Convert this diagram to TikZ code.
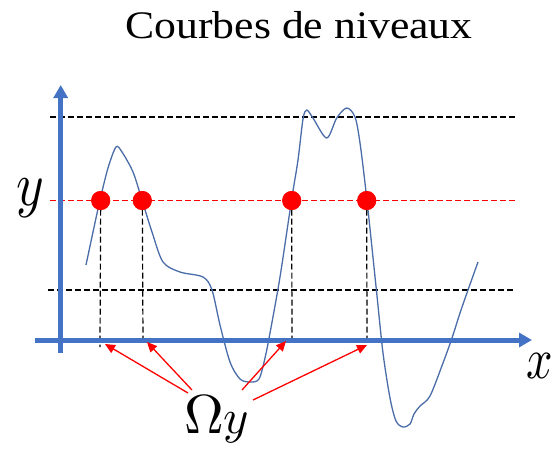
\documentclass[tikz,border=0pt]{standalone}
\usepackage{fontspec}
\setmainfont{Liberation Serif}
\usepackage{unicode-math}
\setmathfont{Latin Modern Math}
\usetikzlibrary{arrows.meta}
\definecolor{axisblue}{HTML}{4472C4}
\definecolor{curveblue}{HTML}{4A6CA8}
\definecolor{dotred}{HTML}{FF0000}
\tikzset{
  axisline/.style={line width=5pt, axisblue, -{Triangle[length=13pt,width=14pt]}},
  blackdash/.style={line width=1.2pt, black, dash pattern=on 6pt off 3pt},
  reddash/.style={line width=1.2pt, dotred, dash pattern=on 6pt off 3pt},
  curveline/.style={line width=1.3pt, curveblue},
  dotnode/.style={circle, fill=dotred, minimum size=19pt, inner sep=0pt},
  pointer/.style={line width=1.3pt, dotred, -{Triangle[length=10pt,width=9pt]}},
  lbl/.style={inner sep=0pt, anchor=base west}
}
\begin{document}
\begin{tikzpicture}[x=1pt,y=-1pt]
\useasboundingbox (0,0) rectangle (554,451);
% title
\node[inner sep=0pt, anchor=base] (title) at (299,38)
  {\scalebox{1.12}[1]{\fontsize{39}{44}\selectfont Courbes de niveaux}};
% level lines
\coordinate (tl) at (50,117);   \coordinate (tr) at (517,117);
\coordinate (ml) at (50,200.5); \coordinate (mr) at (517,200.5);
\coordinate (bl) at (48,290);   \coordinate (br) at (515,290);
\draw[blackdash] (tl) -- (tr);
\draw[reddash] (ml) -- (mr);
\draw[blackdash] (bl) -- (br);
% curve
\draw[curveline] plot[smooth, tension=0.5] coordinates {
 (86,265) (93,232) (100,200) (108,168) (116,147) (122,152) (133,172) (142,200)
 (152,232) (163,262) (180,272) (203,277) (212,290) (220,325) (230,362)
 (240,379) (250,382) (259,379) (265,358) (270,333) (280,277) (291.7,199)
 (298,160) (303,119) (306.7,110) (313,118) (326.7,138) (336.7,118) (346.7,108)
 (355,117) (360,143) (366.7,198) (376.7,293) (383,353) (390,398) (396,421)
 (403,427) (410,424) (414,414) (420,406) (430,396) (443,363) (452,338)
 (460,313) (468,290) (478,262)};
% axes
\coordinate (xs) at (35,340);   \coordinate (xe) at (532,340);
\coordinate (ys) at (60.7,353); \coordinate (ye) at (60.7,85);
% vertical projections
\coordinate (p1) at (100,347); \coordinate (p2) at (143,341);
\coordinate (p3) at (292,341); \coordinate (p4) at (367,341);
\node[dotnode] (d1) at (100.7,200.5) {};
\node[dotnode] (d2) at (142.3,200.5) {};
\node[dotnode] (d3) at (291.7,200.5) {};
\node[dotnode] (d4) at (366.7,200.5) {};
\draw[blackdash] (d1.center) -- (p1);
\draw[blackdash] (d2.center) -- (p2);
\draw[blackdash] (d3.center) -- (p3);
\draw[blackdash] (d4.center) -- (p4);
\draw[axisline] (xs) -- (xe);
\draw[axisline] (ys) -- (ye);
\node[dotnode] at (d1) {};
\node[dotnode] at (d2) {};
\node[dotnode] at (d3) {};
\node[dotnode] at (d4) {};
% labels
\node[lbl] (ylab) at (16,205) {\fontsize{62}{66}\selectfont\scalebox{0.85}[1]{$y$}};
\node[lbl] (xlab) at (526,378) {\fontsize{58}{62}\selectfont\scalebox{0.8}[1]{$x$}};
\node[lbl] (omega) at (184,433) {\fontsize{55}{60}\selectfont$\Omega{}\scalebox{0.88}{$y$}$};
% pointers
\coordinate (s1) at (188,393); \coordinate (t1) at (105,344);
\coordinate (s2) at (192,390); \coordinate (t2) at (147,342);
\coordinate (s3) at (242,390); \coordinate (t3) at (286,341);
\coordinate (s4) at (253,400); \coordinate (t4) at (367,345);
\draw[pointer] (s1) -- (t1);
\draw[pointer] (s2) -- (t2);
\draw[pointer] (s3) -- (t3);
\draw[pointer] (s4) -- (t4);
\end{tikzpicture}
\end{document}
